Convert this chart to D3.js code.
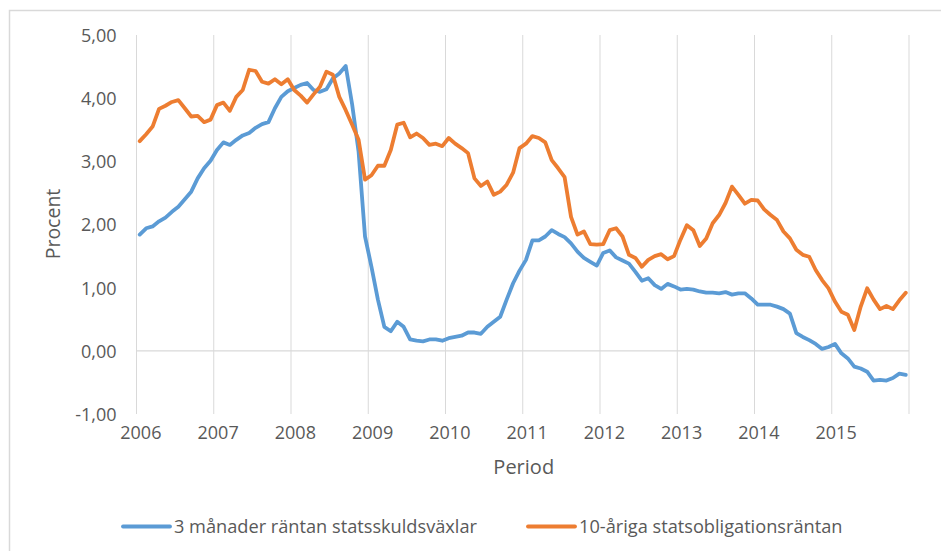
<!DOCTYPE html>
<html>
<head>
<meta charset="utf-8">
<script src="https://cdn.jsdelivr.net/npm/d3@7"></script>
<style>
  body { margin: 0; background: #fff; }
  text { font-family: "Open Sans", "Noto Sans", sans-serif; fill: #595959; }
</style>
</head>
<body>
<svg width="941" height="551"></svg>
<script>
const svg = d3.select("svg");
const width = +svg.attr("width");
const height = +svg.attr("height");

// plot area, Excel-like
const plot = { left: 136.5, right: 909, top: 35, bottom: 414 };

const years = [2006, 2007, 2008, 2009, 2010, 2011, 2012, 2013, 2014, 2015];
const yTicks = [-1, 0, 1, 2, 3, 4, 5];

const seriesNames = ["3 månader räntan statsskuldsväxlar", "10-åriga statsobligationsräntan"];
const colors = ["#5B9BD5", "#ED7D31"];

/* monthly values jan 2006 - dec 2015 */
const tbill3m = [
  1.84, 1.94, 1.97, 2.05, 2.11, 2.20, 2.28, 2.40, 2.52, 2.73, 2.89, 3.01,
  3.18, 3.30, 3.26, 3.34, 3.41, 3.45, 3.53, 3.59, 3.62, 3.84, 4.02, 4.11,
  4.16, 4.21, 4.24, 4.13, 4.10, 4.14, 4.31, 4.39, 4.51, 3.90, 3.15, 1.81,
  1.33, 0.81, 0.38, 0.31, 0.46, 0.38, 0.18, 0.16, 0.15, 0.18, 0.18, 0.16,
  0.20, 0.22, 0.24, 0.29, 0.29, 0.27, 0.38, 0.46, 0.54, 0.81, 1.07, 1.27,
  1.44, 1.75, 1.75, 1.81, 1.91, 1.85, 1.80, 1.70, 1.57, 1.47, 1.41, 1.35,
  1.55, 1.59, 1.48, 1.43, 1.38, 1.25, 1.11, 1.15, 1.04, 0.98, 1.06, 1.02,
  0.97, 0.98, 0.97, 0.94, 0.92, 0.92, 0.91, 0.93, 0.89, 0.91, 0.91, 0.83,
  0.73, 0.73, 0.73, 0.70, 0.66, 0.59, 0.28, 0.22, 0.17, 0.11, 0.03, 0.06,
  0.11, -0.04, -0.12, -0.25, -0.28, -0.33, -0.47, -0.46, -0.47, -0.43, -0.36, -0.38
];

const bond10y = [
  3.32, 3.43, 3.55, 3.83, 3.88, 3.94, 3.97, 3.84, 3.71, 3.72, 3.62, 3.66,
  3.89, 3.93, 3.80, 4.02, 4.13, 4.45, 4.43, 4.26, 4.23, 4.30, 4.22, 4.30,
  4.13, 4.04, 3.93, 4.06, 4.18, 4.42, 4.37, 4.02, 3.81, 3.58, 3.34, 2.71,
  2.78, 2.93, 2.93, 3.18, 3.58, 3.61, 3.38, 3.44, 3.37, 3.26, 3.28, 3.24,
  3.37, 3.28, 3.21, 3.13, 2.73, 2.61, 2.68, 2.47, 2.52, 2.63, 2.82, 3.21,
  3.28, 3.40, 3.37, 3.30, 3.02, 2.89, 2.75, 2.12, 1.84, 1.89, 1.69, 1.68,
  1.69, 1.91, 1.94, 1.81, 1.52, 1.47, 1.33, 1.44, 1.50, 1.53, 1.45, 1.50,
  1.76, 1.99, 1.91, 1.66, 1.78, 2.02, 2.15, 2.34, 2.60, 2.47, 2.33, 2.39,
  2.38, 2.24, 2.15, 2.07, 1.89, 1.78, 1.60, 1.52, 1.49, 1.28, 1.12, 0.99,
  0.78, 0.62, 0.57, 0.33, 0.70, 0.99, 0.81, 0.66, 0.71, 0.66, 0.80, 0.92
];

const series = [tbill3m, bond10y];
const nMonths = tbill3m.length;

const x = d3.scaleLinear()
  .domain([0, nMonths])
  .range([plot.left, plot.right]);

const y = d3.scaleLinear()
  .domain([-1, 5])
  .range([plot.bottom, plot.top]);

const sv = d3.formatLocale({ decimal: ",", thousands: " ", grouping: [3], currency: ["", " kr"], minus: "-" });
const fmt = sv.format(".2f");

// outer chart border (left + top visible)
svg.append("path")
  .attr("d", `M9.5,${height + 2}V10.5H${width + 2}`)
  .attr("fill", "none")
  .attr("stroke", "#D9D9D9")
  .attr("stroke-width", 1.5);

// vertical gridlines at year boundaries
const grid = svg.append("g");
d3.range(0, nMonths + 1, 12).forEach(m => {
  grid.append("line")
    .attr("x1", x(m)).attr("x2", x(m))
    .attr("y1", plot.top).attr("y2", plot.bottom)
    .attr("stroke", "#D9D9D9")
    .attr("stroke-width", 1);
});

// zero line
grid.append("line")
  .attr("x1", plot.left).attr("x2", plot.right)
  .attr("y1", y(0)).attr("y2", y(0))
  .attr("stroke", "#D9D9D9")
  .attr("stroke-width", 1.3);

// y axis labels
const yAxis = svg.append("g")
  .attr("transform", `translate(${plot.left - 20},0)`)
  .call(d3.axisLeft(y).tickValues(yTicks).tickFormat(fmt).tickSize(0).tickPadding(0));
yAxis.select(".domain").remove();
yAxis.selectAll("text")
  .attr("font-size", 18)
  .attr("font-family", null)
  .attr("dy", "0.36em")
  .attr("fill", "#595959");

// x axis labels (one per year, at first month)
const xAxis = svg.append("g")
  .attr("transform", `translate(0,${plot.bottom})`)
  .call(d3.axisBottom(x)
    .tickValues(years.map((yr, i) => i * 12 + 0.6))
    .tickFormat((d, i) => years[i])
    .tickSize(0).tickPadding(12));
xAxis.select(".domain").remove();
xAxis.selectAll("text")
  .attr("font-size", 18)
  .attr("font-family", null)
  .attr("fill", "#595959");

// axis titles
svg.append("text")
  .attr("x", (plot.left + plot.right) / 2 + 1)
  .attr("y", 474)
  .attr("text-anchor", "middle")
  .attr("font-size", 20)
  .text("Period");

svg.append("text")
  .attr("transform", `translate(60,224) rotate(-90)`)
  .attr("text-anchor", "middle")
  .attr("font-size", 19.5)
  .text("Procent");

// lines
const line = d3.line()
  .x((d, i) => x(i + 0.5))
  .y(d => y(d));

series.forEach((s, k) => {
  svg.append("path")
    .datum(s)
    .attr("d", line)
    .attr("fill", "none")
    .attr("stroke", colors[k])
    .attr("stroke-width", 3.8)
    .attr("stroke-linejoin", "round")
    .attr("stroke-linecap", "round");
});

// legend
const legendX = [123, 528];
const legendY = 526.5;
seriesNames.forEach((name, k) => {
  const g = svg.append("g").attr("transform", `translate(${legendX[k]},${legendY})`);
  g.append("line")
    .attr("x1", 0).attr("x2", 47)
    .attr("y1", 0).attr("y2", 0)
    .attr("stroke", colors[k])
    .attr("stroke-width", 3.8)
    .attr("stroke-linecap", "round");
  g.append("text")
    .attr("x", 51)
    .attr("y", 0)
    .attr("dy", "0.36em")
    .attr("font-size", 18.2)
    .text(name);
});
</script>
</body>
</html>
